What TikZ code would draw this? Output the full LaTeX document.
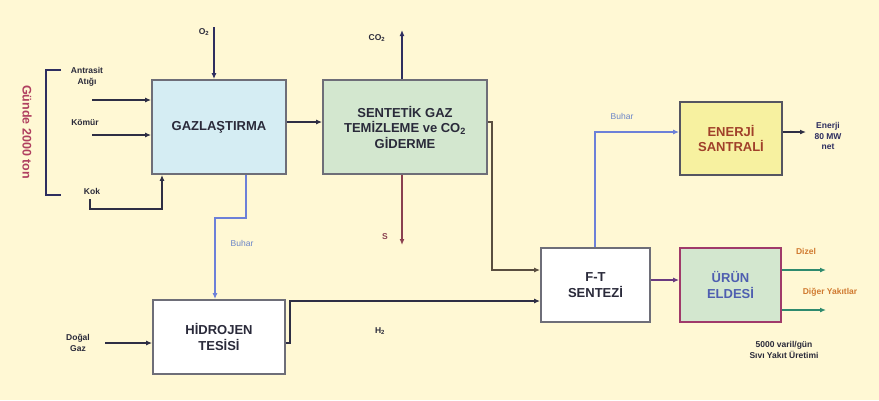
\documentclass[tikz,border=0pt]{standalone}
\usepackage{fontspec}
\setmainfont{Liberation Sans}
\usetikzlibrary{arrows.meta}
\definecolor{bgc}{HTML}{FFF8D4}
\definecolor{gazfill}{HTML}{D5EDF3}
\definecolor{grnfill}{HTML}{D3E7CF}
\definecolor{yelfill}{HTML}{F7F1A0}
\definecolor{boxline}{HTML}{6E6E78}
\definecolor{darktxt}{HTML}{2A2A3A}
\definecolor{darkline}{HTML}{2E2E44}
\definecolor{steam}{HTML}{6C80D8}
\definecolor{steamtxt}{HTML}{6A84C8}
\definecolor{brownline}{HTML}{5A4E40}
\definecolor{sline}{HTML}{8A4050}
\definecolor{purpline}{HTML}{6A3A80}
\definecolor{greenline}{HTML}{2E8A6E}
\definecolor{orangetxt}{HTML}{D07A30}
\definecolor{redtxt}{HTML}{A0402A}
\definecolor{pinkline}{HTML}{A03A6A}
\definecolor{bluetxt}{HTML}{4E5EB0}
\definecolor{crimson}{HTML}{B04060}
\definecolor{navy}{HTML}{2E2E60}
\tikzset{
  procbox/.style={draw=boxline, line width=1.8pt, align=center, inner sep=0pt,
    font=\bfseries\fontsize{13}{15.5}\selectfont, text=darktxt},
  lbl/.style={font=\bfseries\fontsize{8.5}{10.5}\selectfont, text=darktxt, align=center, inner sep=0pt},
  flow/.style={line width=1.7pt, -{Latex[length=6pt,width=5pt]}},
}
\begin{document}
\begin{tikzpicture}[x=1pt,y=-1pt]
\fill[bgc] (0,0) rectangle (879,400);
\useasboundingbox (0,0) rectangle (879,400);

% boxes
\node[procbox, fill=gazfill, minimum width=134pt, minimum height=94pt] (gaz) at (219,127) {GAZLAŞTIRMA};
\node[procbox, fill=grnfill, minimum width=164pt, minimum height=94pt] (sent) at (405,127) {SENTETİK GAZ\\TEMİZLEME ve CO\textsubscript{2}\\GİDERME};
\node[procbox, fill=white, minimum width=132pt, minimum height=74pt] (hid) at (219,337) {HİDROJEN\\TESİSİ};
\node[procbox, fill=white, minimum width=109pt, minimum height=74pt] (ft) at (595.5,285) {F-T\\SENTEZİ};
\node[procbox, draw=darktxt!80, fill=yelfill, minimum width=102pt, minimum height=73pt, text=redtxt] (enr) at (731,138.5) {ENERJİ\\SANTRALİ};
\node[procbox, draw=pinkline, fill=grnfill, minimum width=101pt, minimum height=74pt, text=bluetxt] (urun) at (730.5,285) {ÜRÜN\\ELDESİ};

% labels
\node[lbl] (lo2) at (204,32) {O\textsubscript{2}};
\node[lbl] (lant) at (87,77) {Antrasit\\Atığı};
\node[lbl] (lkom) at (85,123) {Kömür};
\node[lbl] (lkok) at (92,191) {Kok};
\node[font=\bfseries\fontsize{12.5}{14}\selectfont, text=crimson, rotate=-90, inner sep=0pt] (lgun) at (27,132) {Günde 2000 ton};
\node[lbl, font=\fontsize{8.5}{10}\selectfont, text=steamtxt] (lbuh1) at (242,243) {Buhar};
\node[lbl] (ldog) at (78,343) {Doğal\\Gaz};
\node[lbl] (lco2) at (377,38) {CO\textsubscript{2}};
\node[lbl, text=sline] (ls) at (385,237) {S};
\node[lbl] (lh2) at (380,331) {H\textsubscript{2}};
\node[lbl, font=\fontsize{8.5}{10}\selectfont, text=steamtxt] (lbuh2) at (622,116) {Buhar};
\node[lbl, text=navy] (lenj) at (828,136) {Enerji\\80 MW\\net};
\node[lbl, text=orangetxt] (ldiz) at (806,251) {Dizel};
\node[lbl, text=orangetxt] (ldig) at (830,292) {Diğer Yakıtlar};
\node[lbl] (luret) at (784,350) {5000 varil/gün\\Sıvı Yakıt Üretimi};

% bracket
\draw[navy, line width=1.7pt] (61,70) -- (46,70) -- (46,195) -- (61,195);

% free ends
\coordinate (o2s) at (214,27);
\coordinate (a1) at (92,100);
\coordinate (k1s) at (92,135);
\coordinate (kok1) at (90,199);
\coordinate (kokc) at (162,209);
\coordinate (bh1) at (246,218);
\coordinate (bh2) at (215,218);
\coordinate (r1) at (0,122);
\coordinate (co2e) at (402,30);
\coordinate (se) at (402,245);
\coordinate (sf1) at (492,122);
\coordinate (sf2) at (492,270);
\coordinate (dg) at (105,343);
\coordinate (h1) at (290,343);
\coordinate (h2) at (290,301);
\coordinate (bh3) at (595,132);
\coordinate (ee) at (806,132);
\coordinate (fu) at (0,280);
\coordinate (dz) at (826,270);
\coordinate (dy) at (826,310);

% connectors
\draw[flow, navy] (o2s) -- (o2s |- gaz.north);
\draw[flow, darkline] (a1) -- (a1 -| gaz.west);
\draw[flow, darkline] (k1s) -- (k1s -| gaz.west);
\draw[flow, darkline] (kok1) |- (kokc) -- (kokc |- gaz.south);
\draw[flow, steam] (bh1 |- gaz.south) -- (bh1) -- (bh2) -- (bh2 |- hid.north);
\draw[flow, darkline] (r1 -| gaz.east) -- (r1 -| sent.west);
\draw[flow, navy] (co2e |- sent.north) -- (co2e);
\draw[flow, sline] (se |- sent.south) -- (se);
\draw[flow, brownline] (sf1 -| sent.east) -- (sf1) -- (sf2) -- (sf2 -| ft.west);
\draw[flow, darkline] (dg) -- (dg -| hid.west);
\draw[flow, darkline] (h1 -| hid.east) -- (h1) -- (h2) -- (h2 -| ft.west);
\draw[flow, steam] (bh3 |- ft.north) -- (bh3) -- (bh3 -| enr.west);
\draw[flow, darkline] (ee -| enr.east) -- (ee);
\draw[flow, purpline] (fu -| ft.east) -- (fu -| urun.west);
\draw[flow, greenline] (dz -| urun.east) -- (dz);
\draw[flow, greenline] (dy -| urun.east) -- (dy);
\end{tikzpicture}
\end{document}
